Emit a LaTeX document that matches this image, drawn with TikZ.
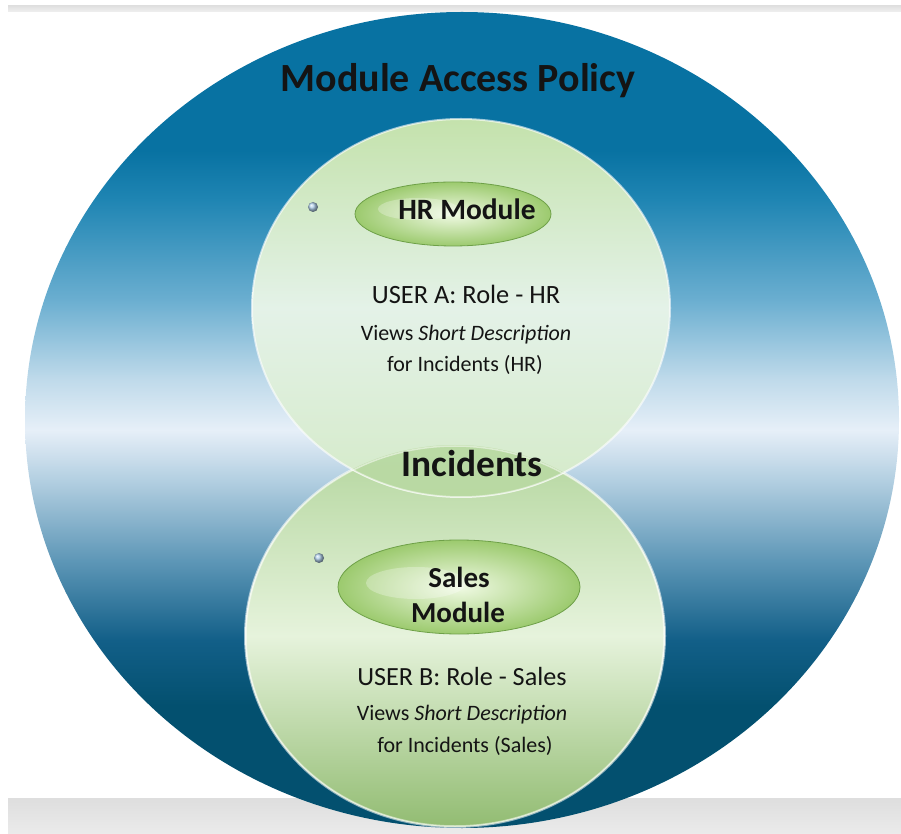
\documentclass[tikz,border=0pt]{standalone}
\usepackage{fontspec}
\setmainfont{Carlito}
\usetikzlibrary{shapes.geometric}
\definecolor{bdarkA}{HTML}{0872A2}
\definecolor{bB}{HTML}{1F85B3}
\definecolor{bC}{HTML}{6AAED0}
\definecolor{bD}{HTML}{BFDAEA}
\definecolor{bL}{HTML}{E6EFF8}
\definecolor{bE}{HTML}{B3CFE1}
\definecolor{bF}{HTML}{5E97B7}
\definecolor{bG}{HTML}{125F88}
\definecolor{bdarkH}{HTML}{03506F}
\definecolor{grayband}{HTML}{E4E4E4}
\definecolor{grayline}{HTML}{E2E2E2}
\definecolor{txt}{HTML}{141414}
\pgfdeclareverticalshading{policyblue}{100bp}{color(0bp)=(bdarkH); color(25bp)=(bdarkH); color(32.5bp)=(bdarkH); color(36.5bp)=(bG); color(41.4bp)=(bF); color(46.3bp)=(bE); color(49.4bp)=(bL); color(52.5bp)=(bD); color(57.4bp)=(bC); color(63.5bp)=(bB); color(66.5bp)=(bdarkA); color(75bp)=(bdarkA); color(100bp)=(bdarkA)}
\tikzset{
  lbl/.style={anchor=base, text=txt, inner sep=0pt},
  modulebox/.style={ellipse, draw={rgb,255:red,110;green,160;blue,72}, line width=0.8pt, shading=radial, inner color={rgb,255:red,240;green,250;blue,228}, outer color={rgb,255:red,156;green,202;blue,110}},
  glint/.style={ellipse, inner sep=0pt, fill=white, fill opacity=0.28},
  dotball/.style={circle, inner sep=0pt, minimum size=10pt, shading=ball, ball color={rgb,255:red,175;green,205;blue,232}},
}
\begin{document}
\begin{tikzpicture}[x=1pt,y=1pt]
\useasboundingbox (0,0) rectangle (901,833);
% background bands
\fill[grayband, top color=black!13, bottom color=black!8] (8,0) rectangle (901,35);
\fill[grayline, top color=black!12, bottom color=black!6] (8,821) rectangle (901,827);
% outer policy ellipse
\node[ellipse, minimum width=874pt, minimum height=816pt, inner sep=0pt, shading=policyblue] (policy) at (462,413) {};
% bottom green circle
\node[ellipse, minimum width=420pt, minimum height=382pt, inner sep=0pt, top color={rgb,255:red,180;green,214;blue,158}, bottom color={rgb,255:red,146;green,188;blue,114}, middle color={rgb,255:red,230;green,243;blue,220}, draw=white, draw opacity=0.55, line width=2pt] (salescirc) at (455,197) {};
% top green circle
\node[ellipse, minimum width=418pt, minimum height=378pt, inner sep=0pt, top color={rgb,255:red,196;green,226;blue,172}, bottom color={rgb,255:red,212;green,234;blue,200}, middle color={rgb,255:red,228;green,242;blue,232}, draw=white, draw opacity=0.6, line width=2pt] (hrcirc) at (461,525) {};
% lens overlap
\begin{scope}
  \clip (455,197) ellipse [x radius=210, y radius=191];
  \fill[fill={rgb,255:red,176;green,212;blue,150}, fill opacity=0.75] (461,525) ellipse [x radius=209, y radius=189];
  \draw[white, opacity=0.5, line width=1.5pt] (461,525) ellipse [x radius=209, y radius=189];
  \draw[white, opacity=0.5, line width=1.5pt] (455,197) ellipse [x radius=209, y radius=190];
\end{scope}
% module ellipses
\node[modulebox, minimum width=196pt, minimum height=64pt, inner sep=0pt] (hrmod) at (453,619) {};
\node[glint, minimum width=80pt, minimum height=22pt] (hrglint) at (418,624) {};
\node[modulebox, minimum width=242pt, minimum height=94pt, inner sep=0pt] (salesmod) at (459,246) {};
\node[glint, minimum width=100pt, minimum height=32pt] (salesglint) at (416,250) {};
% dots
\node[dotball] (dotA) at (313,626) {};
\node[dotball] (dotB) at (319,275) {};
% texts
\node[lbl, font=\fontsize{40}{46}\selectfont\bfseries] (title) at (458,741) {Module Access Policy};
\node[lbl, font=\fontsize{29.5}{34}\selectfont\bfseries] (hrtxt) at (467,613) {HR Module};
\node[lbl, font=\fontsize{26.4}{30}\selectfont] (usera) at (466,529) {USER A: Role - HR};
\node[lbl, font=\fontsize{22}{26}\selectfont] (viewsa) at (466,492) {Views \textit{Short Description}};
\node[lbl, font=\fontsize{22}{26}\selectfont] (fora) at (465,461) {for Incidents (HR)};
\node[lbl, font=\fontsize{37.4}{44}\selectfont\bfseries] (incid) at (472,356) {Incidents};
\node[lbl, font=\fontsize{29}{34}\selectfont\bfseries] (salestxt) at (459,246) {Sales};
\node[lbl, font=\fontsize{29}{34}\selectfont\bfseries] (moduletxt) at (458,211) {Module};
\node[lbl, font=\fontsize{26.2}{30}\selectfont] (userb) at (462,148) {USER B: Role - Sales};
\node[lbl, font=\fontsize{22}{26}\selectfont] (viewsb) at (462,113) {Views \textit{Short Description}};
\node[lbl, font=\fontsize{22}{26}\selectfont] (forb) at (465,81) {for Incidents (Sales)};
\end{tikzpicture}
\end{document}
